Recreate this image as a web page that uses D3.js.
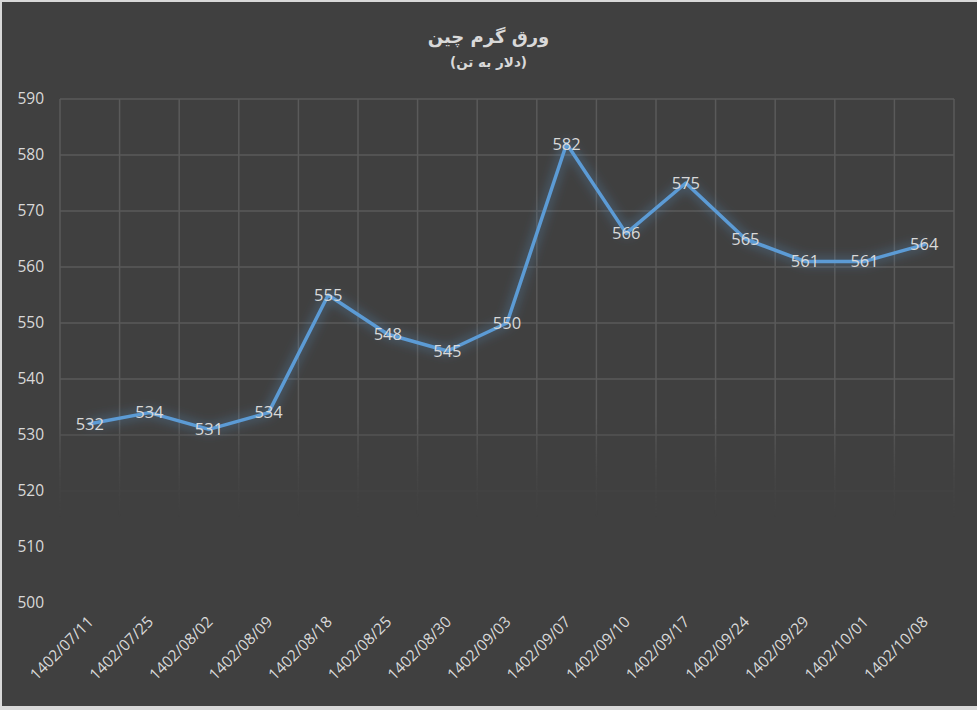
<!DOCTYPE html>
<html>
<head>
<meta charset="utf-8">
<script src="https://cdn.jsdelivr.net/npm/d3@7"></script>
<style>
  body { margin: 0; background: #d9d9d9; }
  svg { display: block; }
</style>
</head>
<body>
<div id="chart"></div>
<script>
// chart data
let dates = ["1402/07/11", "1402/07/25", "1402/08/02", "1402/08/09", "1402/08/18",
  "1402/08/25", "1402/08/30", "1402/09/03", "1402/09/07", "1402/09/10",
  "1402/09/17", "1402/09/24", "1402/09/29", "1402/10/01", "1402/10/08"];
let prices = [532, 534, 531, 534, 555, 548, 545, 550, 582, 566, 575, 565, 561, 561, 564];
let yTicks = [500, 510, 520, 530, 540, 550, 560, 570, 580, 590];
let title = "ورق گرم چین";
let subtitle = "(دلار به تن)";

let svgWidth = 977;
let svgHeight = 710;

let margin = { top: 99, right: 23, bottom: 107, left: 60 };
let width = svgWidth - margin.left - margin.right;
let height = svgHeight - margin.top - margin.bottom;

let svg = d3.select("#chart")
  .append("svg")
  .attr("width", svgWidth)
  .attr("height", svgHeight);

// background with light frame on left / top / bottom
svg.append("rect")
  .attr("x", 2).attr("y", 2)
  .attr("width", svgWidth - 2).attr("height", svgHeight - 6)
  .attr("fill", "#404040");

let defs = svg.append("defs");

// glow for the line
let glow = defs.append("filter")
  .attr("id", "glow")
  .attr("x", "-10%").attr("y", "-20%")
  .attr("width", "120%").attr("height", "140%");
glow.append("feGaussianBlur")
  .attr("in", "SourceGraphic")
  .attr("stdDeviation", 6)
  .attr("result", "blur");
glow.append("feComponentTransfer")
  .attr("in", "blur")
  .attr("result", "soft")
  .append("feFuncA").attr("type", "linear").attr("slope", 0.75);
let merge = glow.append("feMerge");
merge.append("feMergeNode").attr("in", "soft");
merge.append("feMergeNode").attr("in", "SourceGraphic");

// grid fades out toward the bottom
let fade = defs.append("linearGradient")
  .attr("id", "fade")
  .attr("gradientUnits", "userSpaceOnUse")
  .attr("x1", 0).attr("x2", 0)
  .attr("y1", 0).attr("y2", height);
fade.append("stop").attr("offset", 0.63).attr("stop-color", "#fff").attr("stop-opacity", 1);
fade.append("stop").attr("offset", 0.75).attr("stop-color", "#fff").attr("stop-opacity", 0.2);
fade.append("stop").attr("offset", 0.83).attr("stop-color", "#fff").attr("stop-opacity", 0.0);
defs.append("mask")
  .attr("id", "gridMask")
  .attr("maskUnits", "userSpaceOnUse")
  .attr("x", -5).attr("y", -5).attr("width", width + 10).attr("height", height + 10)
  .append("rect")
  .attr("x", -5).attr("y", -5)
  .attr("width", width + 10).attr("height", height + 10)
  .attr("fill", "url(#fade)");

let chartGroup = svg.append("g")
  .attr("transform", `translate(${margin.left}, ${margin.top})`);

// scales
let xBand = d3.scaleBand()
  .domain(dates)
  .range([0, width]);

let yLinearScale = d3.scaleLinear()
  .domain([500, 590])
  .range([height, 0]);

// gridlines
let grid = chartGroup.append("g")
  .attr("mask", "url(#gridMask)")
  .attr("stroke", "#5a5a5a")
  .attr("stroke-width", 1.5);

grid.selectAll(".hgrid")
  .data(yTicks)
  .enter()
  .append("line")
  .attr("x1", 0).attr("x2", width)
  .attr("y1", d => yLinearScale(d))
  .attr("y2", d => yLinearScale(d));

let boundaries = dates.map(d => xBand(d)).concat([width]);
grid.selectAll(".vgrid")
  .data(boundaries)
  .enter()
  .append("line")
  .attr("x1", d => d).attr("x2", d => d)
  .attr("y1", 0).attr("y2", height);

// y axis labels
let LeftAxis = d3.axisLeft(yLinearScale)
  .tickValues(yTicks)
  .tickSize(0)
  .tickPadding(16);

let yAxis = chartGroup.append("g").call(LeftAxis);
yAxis.select(".domain").remove();
yAxis.selectAll("text")
  .attr("fill", "#d9d9d9")
  .attr("font-family", "'Open Sans', 'Noto Sans', sans-serif")
  .attr("font-size", "15.5px");

// x axis labels, rotated
let BottomAxis = d3.axisBottom(xBand)
  .tickSize(0)
  .tickPadding(0);

let xAxis = chartGroup.append("g")
  .attr("transform", `translate(0, ${height})`)
  .call(BottomAxis);
xAxis.select(".domain").remove();
xAxis.selectAll("text")
  .attr("fill", "#d9d9d9")
  .attr("font-family", "'Open Sans', 'Noto Sans', sans-serif")
  .attr("font-size", "15.5px")
  .attr("text-anchor", "end")
  .attr("dy", "0.35em")
  .attr("transform", "translate(1, 16) rotate(-45)");

// line
let line = d3.line()
  .x((d, i) => xBand(dates[i]) + xBand.bandwidth() / 2)
  .y(d => yLinearScale(d));

chartGroup.append("path")
  .datum(prices)
  .attr("d", line)
  .attr("fill", "none")
  .attr("stroke", "#5b9bd5")
  .attr("stroke-width", 3.5)
  .attr("stroke-linejoin", "round")
  .attr("stroke-linecap", "round")
  .attr("filter", "url(#glow)");

// data labels
chartGroup.selectAll(".label")
  .data(prices)
  .enter()
  .append("text")
  .attr("x", (d, i) => xBand(dates[i]) + xBand.bandwidth() / 2)
  .attr("y", d => yLinearScale(d))
  .attr("dy", "0.35em")
  .attr("text-anchor", "middle")
  .attr("fill", "#d9d9d9")
  .attr("font-family", "'Open Sans', 'Noto Sans', sans-serif")
  .attr("font-size", "16.5px")
  .text(d => d);

// titles
svg.append("text")
  .attr("x", svgWidth / 2)
  .attr("y", 43)
  .attr("text-anchor", "middle")
  .attr("direction", "rtl")
  .attr("fill", "#d9d9d9")
  .attr("font-family", "'DejaVu Sans', sans-serif")
  .attr("font-weight", "bold")
  .attr("font-size", "18px")
  .text(title);

svg.append("text")
  .attr("x", svgWidth / 2)
  .attr("y", 67)
  .attr("text-anchor", "middle")
  .attr("direction", "rtl")
  .attr("fill", "#d9d9d9")
  .attr("font-family", "'DejaVu Sans', sans-serif")
  .attr("font-weight", "bold")
  .attr("font-size", "13.5px")
  .text(subtitle);
</script>
</body>
</html>
